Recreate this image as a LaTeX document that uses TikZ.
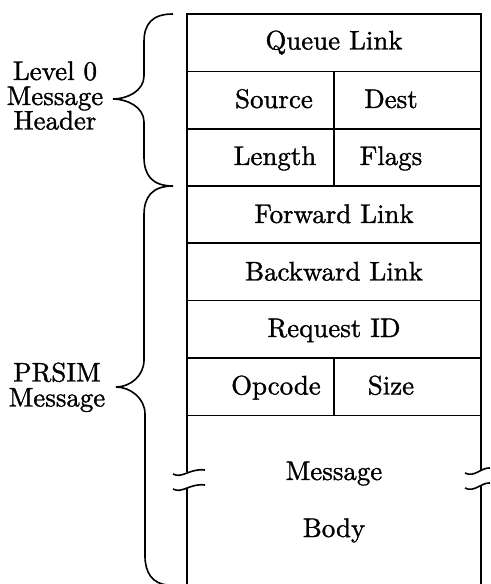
\documentclass[tikz,border=0pt]{standalone}
\usepackage{fontspec}
\setmainfont{Latin Modern Roman}[FakeBold=1.2]
\begin{document}
\begin{tikzpicture}[x=0.372pt,y=-0.372pt,line width=0.6pt,
  fieldtxt/.style={font=\fontsize{10}{12}\selectfont,inner sep=0pt,anchor=base},
  sidetxt/.style={font=\fontsize{10}{12}\selectfont,inner sep=0pt,anchor=base},
  bracecurve/.style={line width=0.6pt},
  breakmark/.style={line width=0.6pt}]
\useasboundingbox (0,0) rectangle (490,584);
% outer box (open at the bottom, interrupted by break marks)
\coordinate (tl) at (187,14);
\coordinate (tr) at (481,14);
\draw (187,472) -- (tl) -- (tr) -- (481,471);
\draw (187,488) -- (187,584);
\draw (481,486) -- (481,584);
% row separators
\foreach \yy in {71.5,129,186,243,300.5,358,415.5}
  \draw (187,\yy) -- (481,\yy);
% column dividers
\draw (334,71.5) -- (334,186);
\draw (334,358) -- (334,415.5);
% field texts
\node[fieldtxt] (queue) at (334,49.5) {Queue Link};
\node[fieldtxt] (src) at (274,108) {Source};
\node[fieldtxt] (dst) at (391,108) {Dest};
\node[fieldtxt] (len) at (275,165) {Length};
\node[fieldtxt] (flg) at (391,165) {Flags};
\node[fieldtxt] (fwd) at (334,223) {Forward Link};
\node[fieldtxt] (bwd) at (334,280.5) {Backward Link};
\node[fieldtxt] (rid) at (334,337) {Request ID};
\node[fieldtxt] (opc) at (276,394.5) {Opcode};
\node[fieldtxt] (siz) at (391,394.5) {Size};
\node[fieldtxt] (msg) at (334,480) {Message};
\node[fieldtxt] (body) at (334,537) {Body};
% break marks
\draw[breakmark] (173,474) .. controls (182,479) and (190,468) .. (205,470);
\draw[breakmark] (173,489) .. controls (182,494) and (190,483) .. (205,485);
\draw[breakmark] (465,473) .. controls (474,478) and (482,467) .. (490,468);
\draw[breakmark] (465,488) .. controls (474,493) and (482,482) .. (490,483);
% side labels
\node[sidetxt] (l1) at (55,80) {Level 0};
\node[sidetxt] (l2) at (55,105) {Message};
\node[sidetxt] (l3) at (55,129.5) {Header};
\node[sidetxt] (p1) at (57,381.5) {PRSIM};
\node[sidetxt] (p2) at (57,406.5) {Message};
% braces
\draw[bracecurve] (173,14) .. controls (152,14) and (144,24) .. (144,42)
  -- (144,76) .. controls (144,91) and (127,99) .. (113,99)
  .. controls (127,99) and (144,107) .. (144,122)
  -- (144,157) .. controls (144,175) and (152,186) .. (173,186);
\draw[bracecurve] (173,186) .. controls (152,186) and (144,197) .. (144,215)
  -- (144,360) .. controls (144,376) and (130,387) .. (116,387)
  .. controls (130,387) and (145,398) .. (145,414)
  -- (145,556) .. controls (145,572) and (152,584) .. (168,585);
\end{tikzpicture}
\end{document}
